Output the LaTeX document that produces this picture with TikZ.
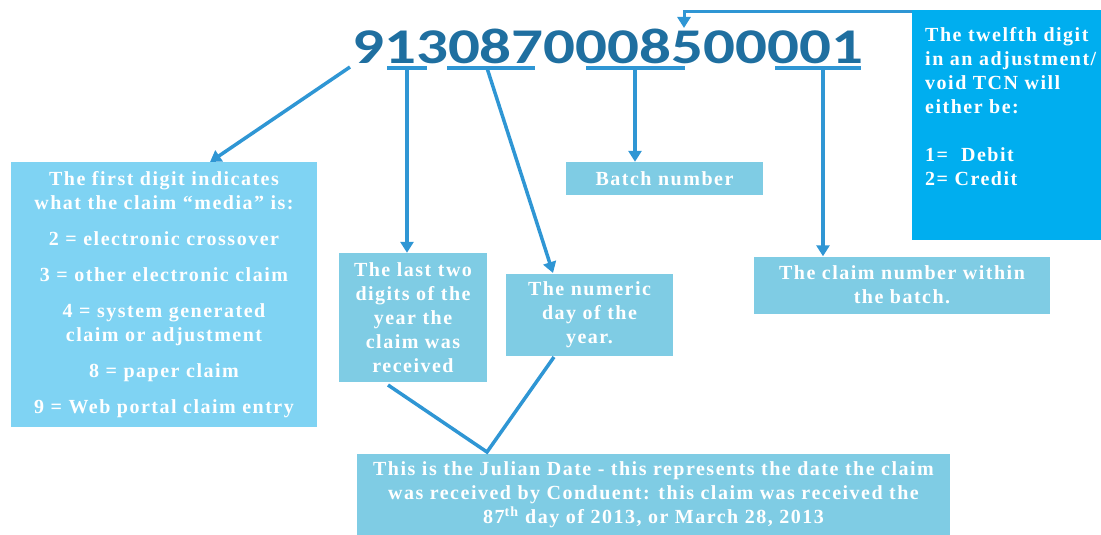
\documentclass[tikz,border=0pt]{standalone}
\usepackage{fontspec}
\setmainfont{Liberation Serif}[LetterSpace=7.5]
\newfontfamily\numfont[FakeStretch=1.26]{Carlito}
\usetikzlibrary{arrows.meta}
\definecolor{numblue}{HTML}{1F6FA0}
\definecolor{lineblue}{HTML}{2F96D4}
\definecolor{boxA}{HTML}{7FD3F3}
\definecolor{boxB}{HTML}{7FCCE4}
\definecolor{boxC}{HTML}{00AEEF}
\begin{document}
\begin{tikzpicture}[x=1pt,y=-1pt,
  conn/.style={draw=lineblue,line width=3.5pt},
  arr/.style={conn,-{Triangle[length=11pt,width=13pt]}},
  box/.style={inner sep=0pt,text=white,align=center,font=\bfseries\fontsize{20}{24}\selectfont},
]
\useasboundingbox (0,0) rectangle (1101,535);

% boxes
\node[box,fill=boxA,minimum width=306pt,minimum height=265pt] (media) at (164,294.5) {};
\node[box,fill=boxB,minimum width=197pt,minimum height=33pt] (batch) at (664.5,178.5) {Batch number};
\node[box,fill=boxB,minimum width=296pt,minimum height=57pt] (claim) at (902,285) {The claim number within\\the batch.};
\node[box,fill=boxC,minimum width=189pt,minimum height=230pt] (twelfth) at (1006.5,125) {};
\node[box,fill=boxB,minimum width=148pt,minimum height=129pt] (year) at (413,317.5) {The last two\\digits of the\\year the\\claim was\\received};
\node[box,fill=boxB,minimum width=167pt,minimum height=82pt] (day) at (589.5,315) {The numeric\\day of the\\year.};
\node[box,fill=boxB,minimum width=593pt,minimum height=82pt] (julian) at (653.5,495) {This is the Julian Date - this represents the date the claim\\was received by Conduent: this claim was received the\\87\textsuperscript{th} day of 2013, or March 28, 2013};

% texts inside
\node[box,anchor=north] (mediatext) at (164,171) {The first digit indicates\\what the claim ``media'' is:\\[12pt]
2 = electronic crossover\\[12pt]
3 = other electronic claim\\[12pt]
4 = system generated\\claim or adjustment\\[12pt]
8 = paper claim\\[12pt]
9 = Web portal claim entry};
\node[box,anchor=north west,align=left] (twelfthtext) at (925,27) {The twelfth digit\\in an adjustment/\\void TCN will\\either be:\\[24pt]
1=\ \ Debit\\2= Credit};

% number
\node[font=\numfont\bfseries\fontsize{50}{50}\selectfont,text=numblue,anchor=base west,inner sep=0pt] (num) at (352,64) {9130870008500001};

% coordinates on the number
\coordinate (d1) at (350,67);
\coordinate (u1a) at (387,68); \coordinate (u1b) at (427,68); \coordinate (u1m) at (407,68);
\coordinate (u2a) at (447,68); \coordinate (u2b) at (535,68); \coordinate (u2m) at (487,68);
\coordinate (u3a) at (586,68); \coordinate (u3b) at (685,68); \coordinate (u3m) at (635,68);
\coordinate (u4a) at (775,68); \coordinate (u4b) at (861,68); \coordinate (u4m) at (823,68);
\coordinate (d12) at (684,12);
\coordinate (yearfoot) at (388,385);
\coordinate (dayfoot) at (554,357);
\coordinate (apex) at (487,452);

% underlines
\draw[conn] (u1a) -- (u1b);
\draw[conn] (u2a) -- (u2b);
\draw[conn] (u3a) -- (u3b);
\draw[conn] (u4a) -- (u4b);

% arrows
\draw[arr] (d1) -- (210,162);
\draw[arr] (u1m) -- (u1m |- year.north);
\draw[arr] (u2m) -- (553,273);
\draw[arr] (u3m) -- (u3m |- batch.north);
\draw[arr] (u4m) -- (u4m |- claim.north);
\draw[arr,line width=3pt] (twelfth.north west |- d12) -- (d12) -- ++(0,16);

% julian V
\draw[conn] (yearfoot) -- (apex) -- (dayfoot);
\end{tikzpicture}
\end{document}
